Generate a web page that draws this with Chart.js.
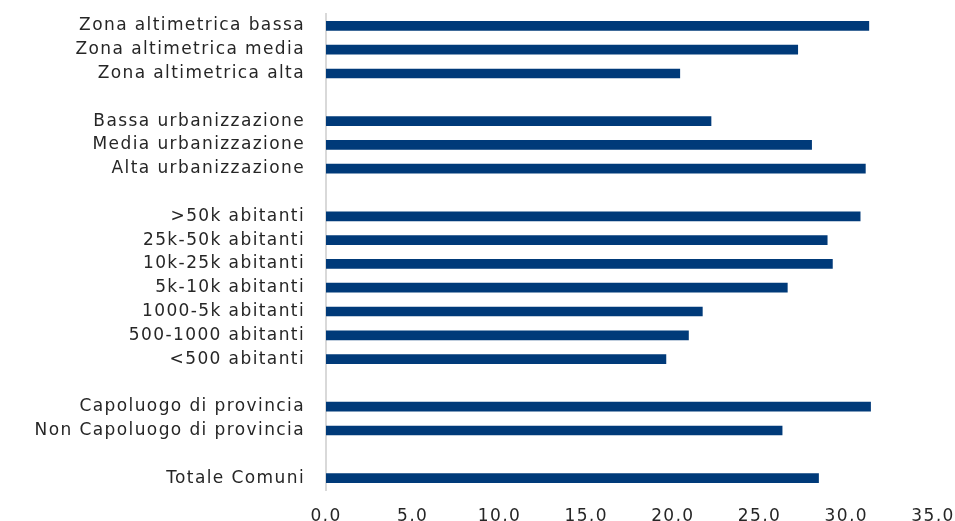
<!DOCTYPE html>
<html lang="it">
<head>
  <meta charset="UTF-8">
  <title>Comuni</title>
  <style>
    html, body { margin: 0; padding: 0; background: #fff; }
    #wrap { width: 955px; height: 521px; position: relative; }
  </style>
</head>
<body>
  <div id="wrap"><canvas id="chart"></canvas></div>

  <script src="https://cdn.jsdelivr.net/npm/chart.js"></script>
  <script>
    // categorie (stringhe vuote = righe di separazione tra i gruppi)
    const categorie = [
      'Zona altimetrica bassa', 'Zona altimetrica media', 'Zona altimetrica alta', '',
      'Bassa urbanizzazione', 'Media urbanizzazione', 'Alta urbanizzazione', '',
      '>50k abitanti', '25k-50k abitanti', '10k-25k abitanti', '5k-10k abitanti',
      '1000-5k abitanti', '500-1000 abitanti', '<500 abitanti', '',
      'Capoluogo di provincia', 'Non Capoluogo di provincia', '',
      'Totale Comuni'
    ];
    const valori = [
      31.3, 27.2, 20.4, null,
      22.2, 28.0, 31.1, null,
      30.8, 28.9, 29.2, 26.6,
      21.7, 20.9, 19.6, null,
      31.4, 26.3, null,
      28.4
    ];
    const tickX = [0, 5, 10, 15, 20, 25, 30, 35];

    const FONT = 'DejaVu Sans';

    // testo un po' più largo, come il font originale
    const spaziatura = {
      id: 'spaziatura',
      beforeDraw(chart) { chart.ctx.letterSpacing = '1.4px'; }
    };

    new Chart(document.getElementById('chart'), {
      type: 'bar',
      data: {
        labels: categorie,
        datasets: [{
          data: valori,
          backgroundColor: '#003a79',
          barThickness: 9
        }]
      },
      plugins: [spaziatura],
      options: {
        indexAxis: 'y',
        responsive: true,
        maintainAspectRatio: false,
        animation: false,
        layout: { padding: { top: 14, right: 0, bottom: 0, left: 0 } },
        plugins: {
          legend: { display: false },
          tooltip: { enabled: false }
        },
        scales: {
          x: {
            min: tickX[0],
            max: tickX[tickX.length - 1],
            afterBuildTicks: function(axis) {
              axis.ticks = tickX.map(v => ({ value: v }));
            },
            afterFit: function(axis) {
              axis.height = 31;
              axis.paddingLeft = 0;
              axis.paddingRight = 22;
            },
            grid: { display: false, drawTicks: false },
            border: { display: false },
            ticks: {
              padding: 16,
              color: '#262626',
              font: { family: FONT, size: 17 },
              maxRotation: 0,
              callback: function(value) {
                return value.toFixed(1).replace('.', ',');
              }
            }
          },
          y: {
            afterFit: function(axis) {
              axis.width = 326;
              axis.paddingTop = 0;
              axis.paddingBottom = 0;
            },
            grid: { display: false, drawTicks: false },
            border: { display: true, color: '#d9d9d9', width: 2 },
            ticks: {
              padding: 21,
              color: '#262626',
              autoSkip: false,
              font: { family: FONT, size: 17 }
            }
          }
        }
      }
    });
  </script>
</body>
</html>
